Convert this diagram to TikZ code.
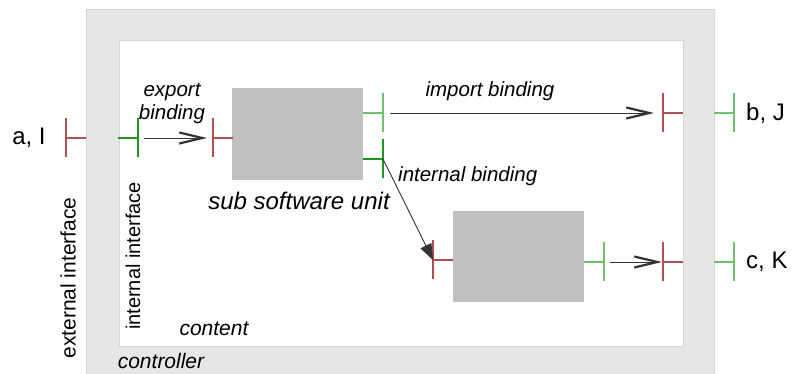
\documentclass[tikz,border=0pt]{standalone}
\usepackage{fontspec}
\setmainfont{Liberation Sans}
\usepackage[dvipsnames]{xcolor}
\usetikzlibrary{positioning, calc, arrows.meta}

\definecolor{ctrlgray}{RGB}{230,230,230}
\definecolor{ctrlborder}{RGB}{212,212,212}
\definecolor{unitgray}{RGB}{192,192,192}
\definecolor{portred}{RGB}{176,80,80}
\definecolor{portgreen}{RGB}{112,192,112}
\definecolor{portdkgreen}{RGB}{30,150,30}

\begin{document}
\begin{tikzpicture}[x=1pt, y=-1pt,
    box/.style={draw=none, inner sep=0pt, outer sep=0pt},
    lbl/.style={inner sep=0pt, font=\fontsize{20.5}{23}\selectfont\itshape},
    iface/.style={inner sep=0pt, font=\fontsize{21}{24}\selectfont, rotate=90},
    ext-lbl/.style={inner sep=0pt, font=\fontsize{24}{28}\selectfont},
    port/.style={line width=1.1pt},
    open-arr/.style={draw=black!80, line width=0.9pt, -{Straight Barb[length=23pt, width=11pt, line width=2.2pt]}},
    fill-arr/.style={draw=black!80, line width=0.9pt, -{Triangle[length=16pt, width=12pt]}}
  ]
\useasboundingbox (0,0) rectangle (793,374);

% Controller and content
\node[box, fill=ctrlgray, draw=ctrlborder, minimum width=628pt, minimum height=367pt] (ctrl) at (400,192.5) {};
\node[box, fill=white, draw=ctrlborder, minimum width=564pt, minimum height=306pt] (cont) at (401,193) {};

% Sub software units
\node[box, fill=unitgray, minimum width=131pt, minimum height=92pt] (unitA) at (297.5,134) {};
\node[box, fill=unitgray, minimum width=131pt, minimum height=91pt] (unitB) at (518.5,256.5) {};

% Ports (centre of the bar)
\coordinate (extA) at (66,138);
\coordinate (intA) at (138,138);
\coordinate (unitAin) at (213,138);
\coordinate (unitAout) at (383,113);
\coordinate (unitAint) at (383,159);
\coordinate (impB) at (663,113);
\coordinate (extB) at (734,113);
\coordinate (unitBin) at (433,260);
\coordinate (unitBout) at (604,262);
\coordinate (impC) at (663,262);
\coordinate (extC) at (734,262);

% Draw every port: bar plus stub (+1 = stub to the right, -1 = to the left)
\foreach \pname/\pcol/\pdir in {extA/portred/1, intA/portdkgreen/-1, unitAin/portred/1,
    unitAout/portgreen/-1, unitAint/portdkgreen/-1, impB/portred/1, extB/portgreen/-1,
    unitBin/portred/1, unitBout/portgreen/-1, impC/portred/1, extC/portgreen/-1} {
    \draw[port, draw=\pcol] ($(\pname)+(0,-19.5)$) -- ($(\pname)+(0,19.5)$);
    \draw[port, draw=\pcol] (\pname) -- ++(20*\pdir,0);
}

% Bindings
\draw[open-arr] ([xshift=6pt]intA) -- ([xshift=-6pt]unitAin);
\draw[open-arr] ([xshift=7pt]unitAout) -- ([xshift=-9pt]impB);
\draw[fill-arr] (unitAint) -- (unitBin);
\draw[open-arr] ([xshift=6pt]unitBout) -- ([xshift=-1pt]impC);

% Labels
\node[ext-lbl] (lblA) at (29,138) {a, I};
\node[ext-lbl, anchor=west] (lblB) at (746,113) {b, J};
\node[ext-lbl, anchor=west] (lblC) at (746,262) {c, K};
\node[lbl, align=center] (exp) at (172,104) {export\\binding};
\node[lbl] (imp) at (490,91) {import binding};
\node[lbl, anchor=west] (intb) at (398,176) {internal binding};
\node[lbl, font=\fontsize{24}{28}\selectfont\itshape] (sub) at (299,201) {sub software unit};
\node[lbl, font=\fontsize{21}{24}\selectfont\itshape] (content) at (214,329) {content};
\node[lbl, font=\fontsize{21}{24}\selectfont\itshape] (controller) at (161,361) {controller};
\node[iface, font=\fontsize{20}{23}\selectfont] (intif) at (133,256) {internal interface};
\node[iface] (extif) at (68,278) {external interface};

\end{tikzpicture}
\end{document}
